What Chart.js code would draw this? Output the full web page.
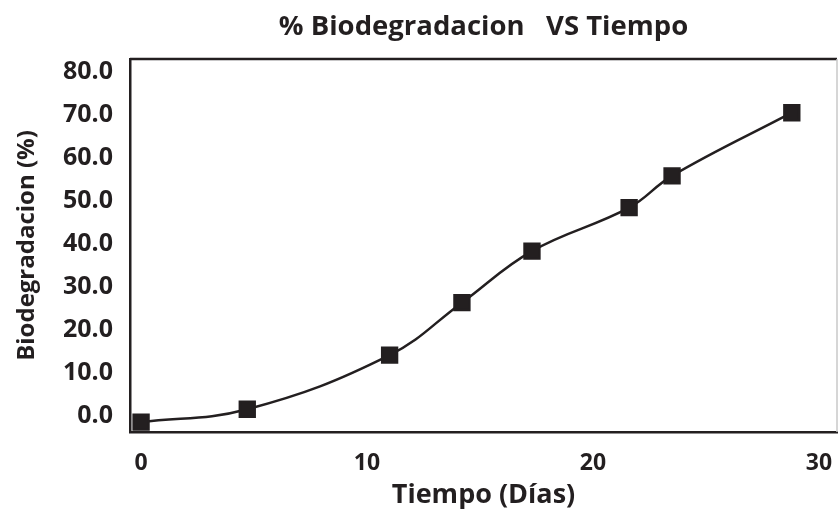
<!DOCTYPE html>
<html lang="es">
<head>
    <meta charset="UTF-8">
    <title>% Biodegradacion VS Tiempo</title>
    <script src="https://cdn.jsdelivr.net/npm/chart.js"></script>
    <style>
        html, body { margin: 0; padding: 0; background: #fff; }
        #wrap { width: 838px; height: 526px; }
    </style>
</head>
<body>
    <div id="wrap"><canvas id="myChart" width="838" height="526"></canvas></div>
    <script>
        // datos
        const dias = [0, 4.7, 11.0, 14.2, 17.3, 21.6, 23.5, 28.8];
        const biodeg = [-1.5, 1.5, 14.1, 26.3, 38.3, 48.4, 55.8, 70.5];
        const xTicks = [0, 10, 20, 30];
        const yTicks = [0, 10, 20, 30, 40, 50, 60, 70, 80];

        const ink = '#231f20';
        const fam = '"Open Sans", "Noto Sans", sans-serif';

        // marco superior y derecho del area
        const frame = {
            id: 'frame',
            afterDraw(chart) {
                const { ctx, chartArea: a } = chart;
                ctx.save();
                ctx.strokeStyle = ink;
                ctx.lineWidth = 2.5;
                ctx.beginPath();
                ctx.moveTo(a.left, a.top);
                ctx.lineTo(a.right, a.top);
                ctx.stroke();
                ctx.strokeStyle = '#c8c8c8';
                ctx.lineWidth = 1.5;
                ctx.beginPath();
                ctx.moveTo(a.right, a.top);
                ctx.lineTo(a.right, a.bottom);
                ctx.stroke();
                ctx.restore();
            }
        };

        const ctx = document.getElementById('myChart').getContext('2d');
        new Chart(ctx, {
            type: 'line',
            data: {
                datasets: [{
                    data: dias.map((d, i) => ({ x: d, y: biodeg[i] })),
                    borderColor: ink,
                    backgroundColor: ink,
                    borderWidth: 2.5,
                    tension: 0.4,
                    pointStyle: 'rect',
                    pointRadius: 10.5,
                    pointHoverRadius: 10.5,
                    clip: false
                }]
            },
            options: {
                responsive: false,
                animation: false,
                layout: { autoPadding: false, padding: { left: 0, right: 1, top: 0, bottom: 0 } },
                plugins: {
                    legend: { display: false },
                    tooltip: { enabled: false },
                    title: {
                        display: true,
                        fullSize: false,
                        text: '% Biodegradacion   VS Tiempo',
                        color: ink,
                        font: { family: fam, size: 27.5, weight: 'bold' },
                        padding: { top: 10.5, bottom: 15.5 }
                    }
                },
                scales: {
                    x: {
                        type: 'linear',
                        min: -0.49,
                        max: 30.8,
                        afterBuildTicks: s => { s.ticks = xTicks.map(v => ({ value: v })); },
                        afterFit: s => { s.height = 94; s.paddingLeft = 0; s.paddingRight = 0; },
                        grid: { display: false, drawTicks: false },
                        border: { display: true, color: ink, width: 2.5 },
                        ticks: {
                            color: ink,
                            padding: 18,
                            maxRotation: 0,
                            font: { family: fam, size: 23, weight: 'bold' }
                        },
                        title: {
                            display: true,
                            text: 'Tiempo (Días)',
                            color: ink,
                            font: { family: fam, size: 27, weight: 'bold' },
                            padding: { top: 0, bottom: 14.8 }
                        }
                    },
                    y: {
                        min: -3.8,
                        max: 83.0,
                        afterBuildTicks: s => { s.ticks = yTicks.map(v => ({ value: v })); },
                        afterFit: s => { s.width = 130; s.paddingTop = 0; s.paddingBottom = 0; },
                        grid: { display: false, drawTicks: false },
                        border: { display: true, color: ink, width: 2.5 },
                        ticks: {
                            color: ink,
                            padding: 17,
                            font: { family: fam, size: 25, weight: 'bold' },
                            callback: v => v.toFixed(1)
                        },
                        title: {
                            display: true,
                            text: 'Biodegradacion (%)',
                            color: ink,
                            font: { family: fam, size: 24, weight: 'bold' },
                            padding: { top: 12.6, bottom: 0 }
                        }
                    }
                }
            },
            plugins: [frame]
        });
    </script>
</body>
</html>
